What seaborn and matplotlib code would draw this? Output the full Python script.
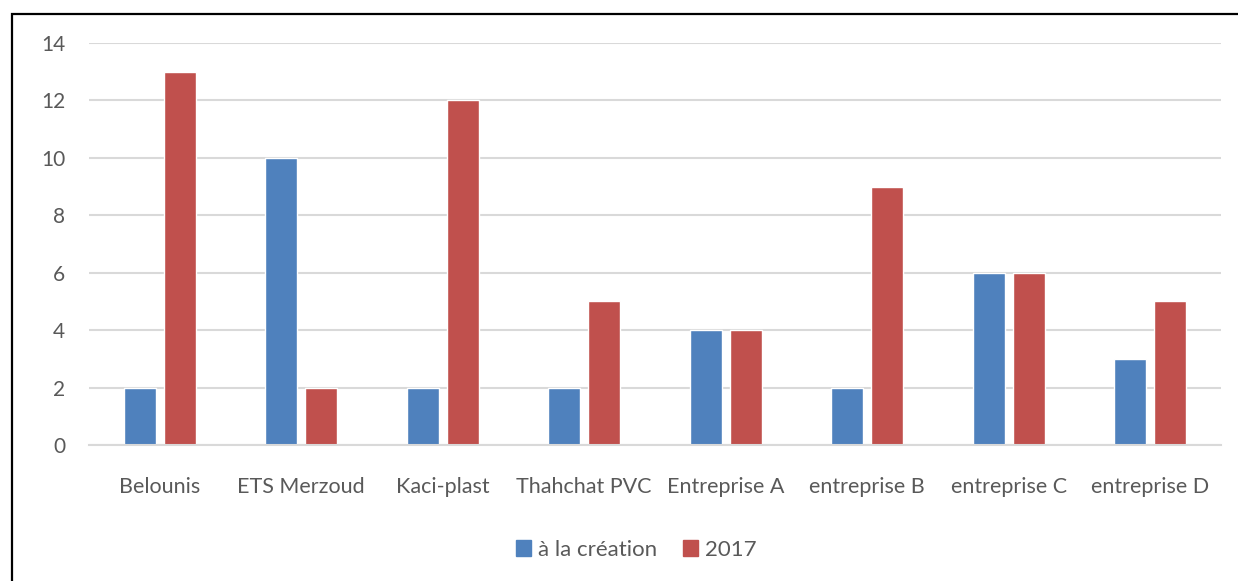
import numpy as np
import pandas as pd
import matplotlib.pyplot as plt
import matplotlib.patches as mpatches
import seaborn as sns

categories = ["Belounis", "ETS Merzoud", "Kaci-plast", "Thahchat PVC",
              "Entreprise A", "entreprise B", "entreprise C", "entreprise D"]
creation = [2, 10, 2, 2, 4, 2, 6, 3]
year_2017 = [13, 2, 12, 5, 4, 9, 6, 5]
series_names = ["à la création", "2017"]
y_ticks = [0, 2, 4, 6, 8, 10, 12, 14]

colors = ["#4F81BD", "#C0504D"]
text_color = "#595959"
grid_color = "#D9D9D9"

df = pd.DataFrame({
    "categorie": categories * 2,
    "valeur": creation + year_2017,
    "serie": [series_names[0]] * len(categories) + [series_names[1]] * len(categories),
})

sns.set_style("white")
plt.rcParams["font.family"] = ["Lato", "DejaVu Sans"]

fig = plt.figure(figsize=(12.38, 5.81), dpi=100)
ax = fig.add_axes([89 / 1238, 1 - 445 / 581, (1221 - 89) / 1238, (445 - 43) / 581])

sns.barplot(data=df, x="categorie", y="valeur", hue="serie", order=categories,
            hue_order=series_names, palette=colors, width=0.566, gap=0.2,
            saturation=1, ax=ax, legend=False, zorder=3)

ax.set_xlim(-0.5, len(categories) - 0.5)
ax.set_ylim(0, 14)
ax.set_yticks(y_ticks)
ax.yaxis.grid(True, color=grid_color, linewidth=1.5, zorder=0)
ax.xaxis.grid(False)
for side in ["top", "right", "left"]:
    ax.spines[side].set_visible(False)
ax.spines["bottom"].set_color(grid_color)
ax.spines["bottom"].set_linewidth(1.5)
ax.spines["bottom"].set_zorder(4)
ax.tick_params(axis="y", length=0, pad=17, labelsize=15, labelcolor=text_color)
ax.tick_params(axis="x", length=0, pad=23, labelsize=15.5, labelcolor=text_color)
ax.set_xlabel("")
ax.set_ylabel("")

handles = [mpatches.Patch(color=c, label=n) for c, n in zip(colors, series_names)]
fig.legend(handles=handles, loc="center", bbox_to_anchor=(636 / 1238, 1 - 550 / 581),
           ncol=2, frameon=False, fontsize=16, labelcolor=text_color,
           handlelength=0.7, handleheight=0.7, handletextpad=0.3, columnspacing=1.15)

# outer border, cut off at the right and bottom like the reference
border = mpatches.Rectangle((12 / 1238, -0.05), 1.1, 1 - 14 / 581 + 0.05,
                            transform=fig.transFigure, fill=False,
                            edgecolor="black", linewidth=1.6, clip_on=False)
fig.patches.append(border)

fig.savefig("out.png", dpi=100)
